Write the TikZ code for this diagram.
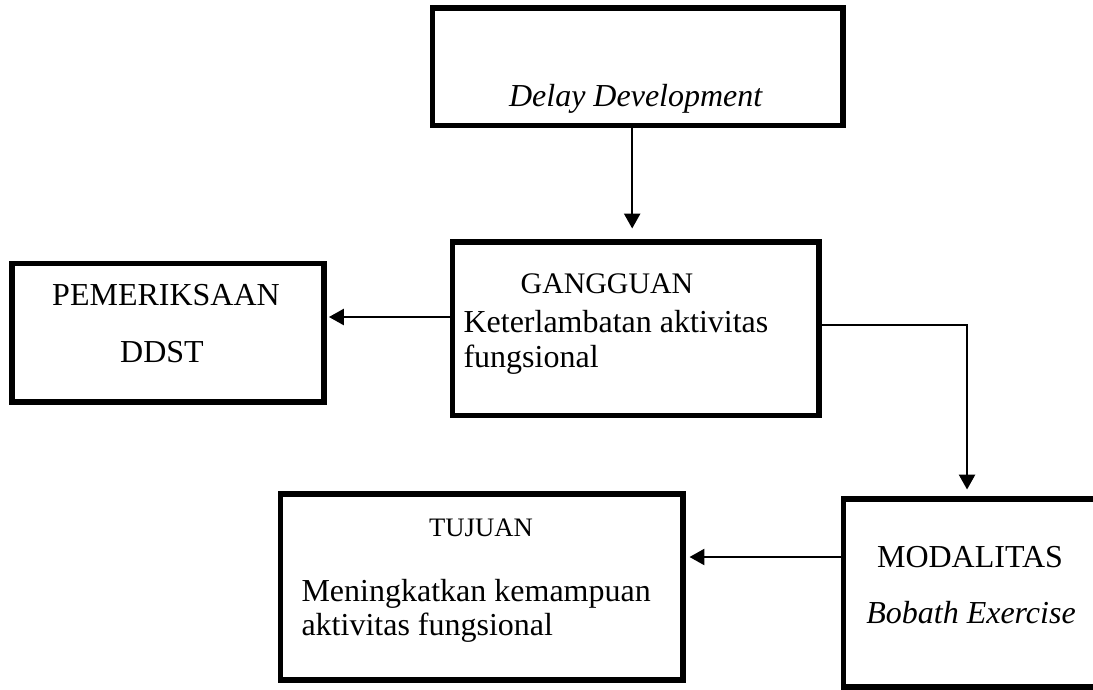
\documentclass[tikz,border=0pt]{standalone}
\usepackage{fontspec}
\setmainfont{Liberation Serif}
\usetikzlibrary{positioning}
\usetikzlibrary{arrows.meta}

\begin{document}
\begin{tikzpicture}[
  x=0.375pt, y=-0.375pt,
  box/.style 2 args={draw, line width=1.9pt, minimum width=#1, minimum height=#2, inner sep=0pt},
  lbl/.style={font=\fontsize{12pt}{13.1pt}\selectfont, inner sep=0pt, anchor=base},
  small/.style={font=\fontsize{10pt}{12pt}\selectfont, inner sep=0pt, anchor=base},
  arrow/.style={-{Triangle[length=5.6pt, width=6pt]}, line width=0.9pt}
]
\useasboundingbox (0,0) rectangle (1093,689);

% boxes
\node[box={154.1pt}{43.9pt}] (delay) at (637.5,66.5) {};
\node[box={137.6pt}{64.9pt}] (gangguan) at (635.5,328.5) {};
\node[box={117pt}{52.1pt}] (pemeriksaan) at (168,332.5) {};
\node[box={95.6pt}{70.5pt}] (modalitas) at (970.5,593) {};
\node[box={151.1pt}{69.75pt}] (tujuan) at (481.5,587) {};

% texts (base of a two-line node = its last line)
\node[lbl] (delay-text) at (636,106) {\textit{Delay Development}};
\node[lbl, font=\fontsize{11.2pt}{12pt}\selectfont] (gangguan-title) at (607,293) {GANGGUAN};
\node[lbl, anchor=base west, align=left] (gangguan-text) at (463,367) {Keterlambatan aktivitas\\fungsional};
\node[lbl] (pemeriksaan-title) at (166,305) {PEMERIKSAAN};
\node[lbl] (pemeriksaan-text) at (162,362) {DDST};
\node[lbl] (modalitas-title) at (970,567) {MODALITAS};
\node[lbl] (modalitas-text) at (971,623) {\textit{Bobath Exercise}};
\node[small] (tujuan-title) at (481,536) {TUJUAN};
\node[lbl, anchor=base west, align=left, font=\fontsize{12pt}{12.75pt}\selectfont] (tujuan-text) at (301,635) {Meningkatkan kemampuan\\aktivitas fungsional};

% connectors
\draw[arrow, shorten >=4.1pt] ([xshift=-2pt]delay.south) -- ([xshift=-2pt]delay.south |- gangguan.north);
\draw[arrow, shorten >=0.9pt] (gangguan.west |- 0,317) -- (pemeriksaan.east |- 0,317);
\draw[arrow, shorten >=2.6pt] (gangguan.east |- 0,325) -| ([xshift=-1.3pt]modalitas.north);
\draw[arrow, shorten >=1.5pt] (modalitas.west |- 0,557) -- (tujuan.east |- 0,557);

\end{tikzpicture}
\end{document}
